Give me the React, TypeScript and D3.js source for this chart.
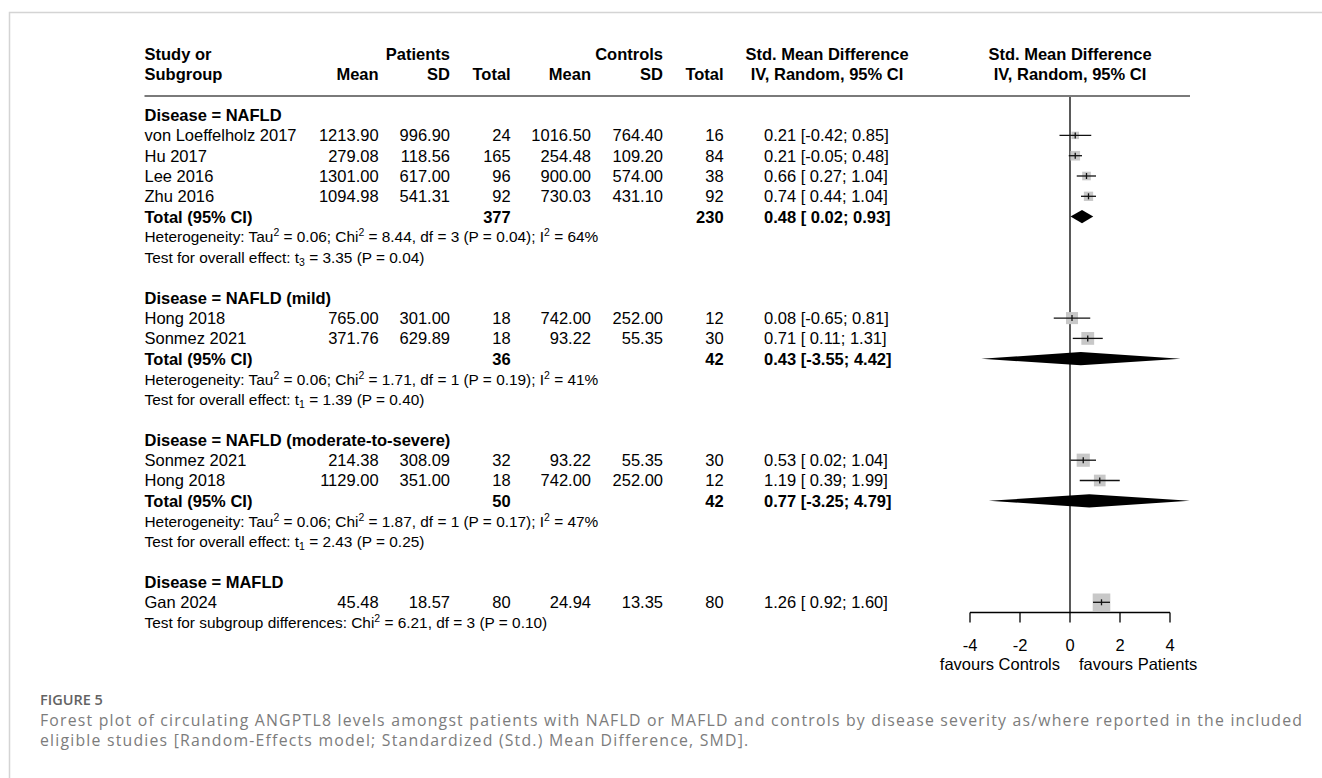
import React, { useEffect, useRef } from 'react';
import * as d3 from 'd3';

// Subgroups, in plot order
const groupLabels = ['NAFLD', 'NAFLD (mild)', 'NAFLD (moderate-to-severe)', 'MAFLD'];

// Study rows
const studyNames = ['von Loeffelholz 2017', 'Hu 2017', 'Lee 2016', 'Zhu 2016', 'Hong 2018', 'Sonmez 2021', 'Sonmez 2021', 'Hong 2018', 'Gan 2024'];
const studyGroup = [0, 0, 0, 0, 1, 1, 2, 2, 3];
const patMean = [1213.9, 279.08, 1301.0, 1094.98, 765.0, 371.76, 214.38, 1129.0, 45.48];
const patSD = [996.9, 118.56, 617.0, 541.31, 301.0, 629.89, 308.09, 351.0, 18.57];
const patN = [24, 165, 96, 92, 18, 18, 32, 18, 80];
const ctlMean = [1016.5, 254.48, 900.0, 730.03, 742.0, 93.22, 93.22, 742.0, 24.94];
const ctlSD = [764.4, 109.2, 574.0, 431.1, 252.0, 55.35, 55.35, 252.0, 13.35];
const ctlN = [16, 84, 38, 92, 12, 30, 30, 12, 80];
const smd = [0.21, 0.21, 0.66, 0.74, 0.08, 0.71, 0.53, 1.19, 1.26];
const smdLower = [-0.42, -0.05, 0.27, 0.44, -0.65, 0.11, 0.02, 0.39, 0.92];
const smdUpper = [0.85, 0.48, 1.04, 1.04, 0.81, 1.31, 1.04, 1.99, 1.6];
// within-subgroup weight (%), sets square area
const weights = [18, 30, 24, 28, 47, 53, 56, 44, 100];

// Pooled subgroup results (MAFLD has a single study, no pooling)
const totalPatN = [377, 36, 50];
const totalCtlN = [230, 42, 42];
const pooledSmd = [0.48, 0.43, 0.77];
const pooledLower = [0.02, -3.55, -3.25];
const pooledUpper = [0.93, 4.42, 4.79];
const tau2 = [0.06, 0.06, 0.06];
const chi2 = [8.44, 1.71, 1.87];
const hetDf = [3, 1, 1];
const hetP = [0.04, 0.19, 0.17];
const iSquared = [64, 41, 47];
const tStat = [3.35, 1.39, 2.43];
const tP = [0.04, 0.4, 0.25];

// Test for subgroup differences
const subChi2 = 6.21;
const subDf = 3;
const subP = 0.1;

const axisTicks = [-4, -2, 0, 2, 4];

const captionLines = [
  'Forest plot of circulating ANGPTL8 levels amongst patients with NAFLD or MAFLD and controls by disease severity as/where reported in the included',
  'eligible studies [Random-Effects model; Standardized (Std.) Mean Difference, SMD].',
];

type Row =
  | { kind: 'group'; g: number }
  | { kind: 'study'; s: number }
  | { kind: 'total'; g: number }
  | { kind: 'het'; g: number }
  | { kind: 'test'; g: number }
  | { kind: 'blank' }
  | { kind: 'subgroups' };

const buildRows = (): Row[] => {
  const rows: Row[] = [];
  groupLabels.forEach((_, g) => {
    rows.push({ kind: 'group', g });
    studyGroup.forEach((sg, s) => {
      if (sg === g) rows.push({ kind: 'study', s });
    });
    if (g < pooledSmd.length) {
      rows.push({ kind: 'total', g }, { kind: 'het', g }, { kind: 'test', g }, { kind: 'blank' });
    } else {
      rows.push({ kind: 'subgroups' });
    }
  });
  return rows;
};

const fmtCI = (est: number, lo: number, hi: number) => {
  const b = (v: number) => (v < 0 ? v.toFixed(2) : ' ' + v.toFixed(2));
  return `${est.toFixed(2)} [${b(lo)}; ${hi.toFixed(2)}]`;
};

const App: React.FC = () => {
  const svgRef = useRef<SVGSVGElement | null>(null);

  useEffect(() => {
    if (!svgRef.current) return;
    const svg = d3.select(svgRef.current);
    svg.selectAll('*').remove();

    const W = 1322;
    const H = 778;
    svg.attr('width', W).attr('height', H);

    const font = "'Liberation Sans', Arial, Helvetica, sans-serif";
    const fs = 16.5;
    const smallFs = 15.4;
    const rowY0 = 115.1;
    const rowStep = 20.3;
    const rowY = (i: number) => rowY0 + i * rowStep;

    const col = {
      study: 144.5,
      pMean: 378.6,
      pSD: 450,
      pN: 510.7,
      cMean: 591,
      cSD: 663,
      cN: 723.6,
      ci: 764,
      ciHead: 827,
    };

    const x = d3.scaleLinear().domain([-4, 4]).range([970, 1170]);
    const size = d3.scaleSqrt().domain([0, d3.max(weights) as number]).range([0, 17.6]);

    // background + figure frame
    svg.append('rect').attr('width', W).attr('height', H).attr('fill', '#fff');
    svg.append('path')
      .attr('d', `M9.5,${H} V12.5 H${W}`)
      .attr('fill', 'none')
      .attr('stroke', '#d4d4d4')
      .attr('stroke-width', 1.5);

    const g = svg.append('g').attr('font-family', font).attr('fill', '#000');

    const addText = (
      tx: number,
      cy: number,
      str: string,
      anchor: 'start' | 'middle' | 'end' = 'start',
      bold = false,
      size_ = fs,
    ) =>
      g.append('text')
        .attr('x', tx)
        .attr('y', cy + size_ * 0.36)
        .attr('text-anchor', anchor)
        .attr('font-size', size_)
        .attr('font-weight', bold ? 'bold' : 'normal')
        .style('white-space', 'pre')
        .text(str);

    // rich text with super / subscripts
    const addRich = (tx: number, cy: number, parts: [string, 'n' | 'sup' | 'sub'][]) => {
      const t = g.append('text')
        .attr('x', tx)
        .attr('y', cy + smallFs * 0.36)
        .attr('font-size', smallFs)
        .style('white-space', 'pre');
      let shift = 0;
      parts.forEach(([str, mode]) => {
        const target = mode === 'sup' ? -6 : mode === 'sub' ? 3.5 : 0;
        t.append('tspan')
          .attr('dy', target - shift)
          .attr('font-size', mode === 'n' ? smallFs : smallFs * 0.68)
          .text(str);
        shift = target;
      });
    };

    // header
    const h1 = rowY(-3);
    const h2 = rowY(-2);
    addText(col.study, h1, 'Study or', 'start', true);
    addText(col.study, h2, 'Subgroup', 'start', true);
    addText(col.pSD, h1, 'Patients', 'end', true);
    addText(col.cSD, h1, 'Controls', 'end', true);
    addText(col.pMean, h2, 'Mean', 'end', true);
    addText(col.pSD, h2, 'SD', 'end', true);
    addText(col.pN, h2, 'Total', 'end', true);
    addText(col.cMean, h2, 'Mean', 'end', true);
    addText(col.cSD, h2, 'SD', 'end', true);
    addText(col.cN, h2, 'Total', 'end', true);
    addText(col.ciHead, h1, 'Std. Mean Difference', 'middle', true);
    addText(col.ciHead, h2, 'IV, Random, 95% CI', 'middle', true);
    addText(x(0), h1, 'Std. Mean Difference', 'middle', true);
    addText(x(0), h2, 'IV, Random, 95% CI', 'middle', true);

    const headLineY = 96;
    g.append('line')
      .attr('x1', col.study)
      .attr('x2', 1190)
      .attr('y1', headLineY)
      .attr('y2', headLineY)
      .attr('stroke', '#7a7a7a')
      .attr('stroke-width', 2);

    const rows = buildRows();
    const axisY = 612.5;

    // reference line at 0
    g.append('line')
      .attr('x1', x(0))
      .attr('x2', x(0))
      .attr('y1', headLineY + 1)
      .attr('y2', axisY)
      .attr('stroke', '#000')
      .attr('stroke-width', 1.3);

    rows.forEach((row, i) => {
      const cy = rowY(i);
      switch (row.kind) {
        case 'group':
          addText(col.study, cy, `Disease = ${groupLabels[row.g]}`, 'start', true);
          break;
        case 'study': {
          const s = row.s;
          addText(col.study, cy, studyNames[s]);
          addText(col.pMean, cy, patMean[s].toFixed(2), 'end');
          addText(col.pSD, cy, patSD[s].toFixed(2), 'end');
          addText(col.pN, cy, String(patN[s]), 'end');
          addText(col.cMean, cy, ctlMean[s].toFixed(2), 'end');
          addText(col.cSD, cy, ctlSD[s].toFixed(2), 'end');
          addText(col.cN, cy, String(ctlN[s]), 'end');
          addText(col.ci, cy, fmtCI(smd[s], smdLower[s], smdUpper[s]));

          const sq = size(weights[s]);
          g.append('rect')
            .attr('x', x(smd[s]) - sq / 2)
            .attr('y', cy - sq / 2)
            .attr('width', sq)
            .attr('height', sq)
            .attr('fill', '#c8c8c8');
          g.append('line')
            .attr('x1', x(smdLower[s]))
            .attr('x2', x(smdUpper[s]))
            .attr('y1', cy)
            .attr('y2', cy)
            .attr('stroke', '#111')
            .attr('stroke-width', 1.3);
          g.append('line')
            .attr('x1', x(smd[s]))
            .attr('x2', x(smd[s]))
            .attr('y1', cy - 3)
            .attr('y2', cy + 3)
            .attr('stroke', '#111')
            .attr('stroke-width', 1.3);
          break;
        }
        case 'total': {
          const k = row.g;
          addText(col.study, cy, 'Total (95% CI)', 'start', true);
          addText(col.pN, cy, String(totalPatN[k]), 'end', true);
          addText(col.cN, cy, String(totalCtlN[k]), 'end', true);
          addText(col.ci, cy, fmtCI(pooledSmd[k], pooledLower[k], pooledUpper[k]), 'start', true);
          const hh = 6.6;
          g.append('path')
            .attr('d', `M${x(pooledLower[k])},${cy} L${x(pooledSmd[k])},${cy - hh} L${x(pooledUpper[k])},${cy} L${x(pooledSmd[k])},${cy + hh} Z`)
            .attr('fill', '#000');
          break;
        }
        case 'het': {
          const k = row.g;
          addRich(col.study, cy, [
            ['Heterogeneity: Tau', 'n'],
            ['2', 'sup'],
            [` = ${tau2[k].toFixed(2)}; Chi`, 'n'],
            ['2', 'sup'],
            [` = ${chi2[k].toFixed(2)}, df = ${hetDf[k]} (P = ${hetP[k].toFixed(2)}); I`, 'n'],
            ['2', 'sup'],
            [` = ${iSquared[k]}%`, 'n'],
          ]);
          break;
        }
        case 'test': {
          const k = row.g;
          addRich(col.study, cy, [
            ['Test for overall effect: t', 'n'],
            [String(hetDf[k]), 'sub'],
            [` = ${tStat[k].toFixed(2)} (P = ${tP[k].toFixed(2)})`, 'n'],
          ]);
          break;
        }
        case 'subgroups':
          addRich(col.study, cy, [
            ['Test for subgroup differences: Chi', 'n'],
            ['2', 'sup'],
            [` = ${subChi2.toFixed(2)}, df = ${subDf} (P = ${subP.toFixed(2)})`, 'n'],
          ]);
          break;
        default:
          break;
      }
    });

    // x axis
    const axis = g.append('g').attr('transform', `translate(0,${axisY})`);
    axis.append('line')
      .attr('x1', x(axisTicks[0]))
      .attr('x2', x(axisTicks[axisTicks.length - 1]))
      .attr('stroke', '#000')
      .attr('stroke-width', 1.3);
    axisTicks.forEach((t) => {
      axis.append('line')
        .attr('x1', x(t))
        .attr('x2', x(t))
        .attr('y1', 0)
        .attr('y2', 10)
        .attr('stroke', '#000')
        .attr('stroke-width', 1.3);
    });
    axisTicks.forEach((t) => addText(x(t), 645, String(t), 'middle'));
    addText(x(0) - 10, 664, 'favours Controls', 'end');
    addText(x(0) + 9, 664, 'favours Patients', 'start');

    // caption: fit the first line to the reference width using letter spacing
    const cap = svg.append('g').attr('font-family', "'Open Sans', 'Noto Sans', sans-serif");
    cap.append('text')
      .attr('x', 40)
      .attr('y', 705)
      .attr('font-size', 14.5)
      .attr('font-weight', 600)
      .attr('fill', '#636363')
      .text('FIGURE 5');
    const capFs = 15.8;
    const capTexts = captionLines.map((line, i) =>
      cap.append('text')
        .attr('x', 40)
        .attr('y', 726 + i * 19.5)
        .attr('font-size', capFs)
        .attr('fill', '#7c7c7c')
        .text(line),
    );
    const firstLen = (capTexts[0].node() as SVGTextElement).getComputedTextLength();
    const gaps = captionLines[0].length - 1;
    const spacing = firstLen > 0 ? Math.max(0, (1262 - firstLen) / gaps) : 0.3;
    capTexts.forEach((t) => t.attr('letter-spacing', spacing));
  }, []);

  return (
    <div style={{ position: 'absolute', left: 0, top: 0 }}>
      <svg ref={svgRef} style={{ display: 'block' }}></svg>
    </div>
  );
};

export default App;
